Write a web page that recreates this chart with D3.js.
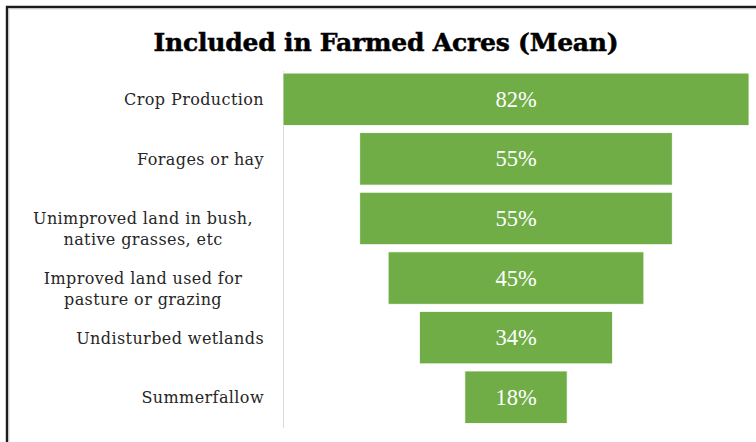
<!DOCTYPE html>
<html>
<head>
<meta charset="utf-8">
<script src="https://cdn.jsdelivr.net/npm/d3@7"></script>
<style>
  html, body { margin: 0; padding: 0; background: #fff; }
  svg { display: block; }
</style>
</head>
<body>
<svg id="chart" width="756" height="442"></svg>
<script>
// Share of farmed acres by land use (mean), drawn as a centred funnel
const categories = [
  ["Crop Production"],
  ["Forages or hay"],
  ["Unimproved land in bush,", "native grasses, etc"],
  ["Improved land used for", "pasture or grazing"],
  ["Undisturbed wetlands"],
  ["Summerfallow"]
];
const values = [82, 55, 55, 45, 34, 18];
const valueLabels = ["82%", "55%", "55%", "45%", "34%", "18%"];
const title = "Included in Farmed Acres (Mean)";

const W = 756, H = 442;
const svg = d3.select("#chart");

// outer frame (top and left edges visible)
svg.append("path")
  .attr("d", "M7,442V7H756")
  .attr("fill", "none").attr("stroke", "#1c1c1c").attr("stroke-width", 2.4);
svg.append("path")
  .attr("d", "M8.8,442V8.8H756")
  .attr("fill", "none").attr("stroke", "#c4c4c4").attr("stroke-width", 1);

// title
svg.append("text")
  .attr("x", 386).attr("y", 51)
  .attr("text-anchor", "middle")
  .attr("font-family", "'DejaVu Serif', serif")
  .attr("font-weight", "bold")
  .attr("font-size", 25)
  .attr("letter-spacing", -0.2)
  .attr("stroke", "#000").attr("stroke-width", 0.5)
  .attr("fill", "#000")
  .text(title);

const rows = d3.range(values.length);
const maxV = d3.max(values);

const y = d3.scaleBand()
  .domain(rows)
  .range([69.5, 427])
  .paddingInner(0.12)
  .paddingOuter(0.06);

const x = d3.scaleLinear()
  .domain([0, maxV])
  .range([283, 749]);

// category axis line
svg.append("line")
  .attr("x1", 283.5).attr("x2", 283.5)
  .attr("y1", 71).attr("y2", 428)
  .attr("stroke", "#d9d9d9").attr("stroke-width", 1);

// funnel bars, each centred on the widest one
svg.append("g").selectAll("rect")
  .data(rows)
  .join("rect")
  .attr("x", i => x((maxV - values[i]) / 2))
  .attr("y", i => y(i))
  .attr("width", i => x(values[i]) - x(0))
  .attr("height", y.bandwidth())
  .attr("fill", "#70ad47")
  .attr("stroke", "#ffffff")
  .attr("stroke-width", 0.8);

// value labels
svg.append("g").selectAll("text")
  .data(rows)
  .join("text")
  .attr("x", x(maxV / 2))
  .attr("y", i => y(i) + y.bandwidth() / 2 + 7.5)
  .attr("text-anchor", "middle")
  .attr("font-family", "'Liberation Serif', serif")
  .attr("font-size", 22.5)
  .attr("fill", "#ffffff")
  .text(i => valueLabels[i]);

// category labels: single lines right-aligned, wrapped labels centred
const labels = svg.append("g")
  .attr("font-family", "'DejaVu Serif', serif")
  .attr("font-size", 16)
  .attr("letter-spacing", 0.4)
  .attr("fill", "#262626");

rows.forEach(i => {
  const lines = categories[i];
  const cy = y(i) + y.bandwidth() / 2;
  const t = labels.append("text")
    .attr("text-anchor", lines.length > 1 ? "middle" : "end");
  lines.forEach((ln, k) => {
    t.append("tspan")
      .attr("x", lines.length > 1 ? 143 : 264)
      .attr("y", cy + 6 + k * 21)
      .text(ln);
  });
});
</script>
</body>
</html>
